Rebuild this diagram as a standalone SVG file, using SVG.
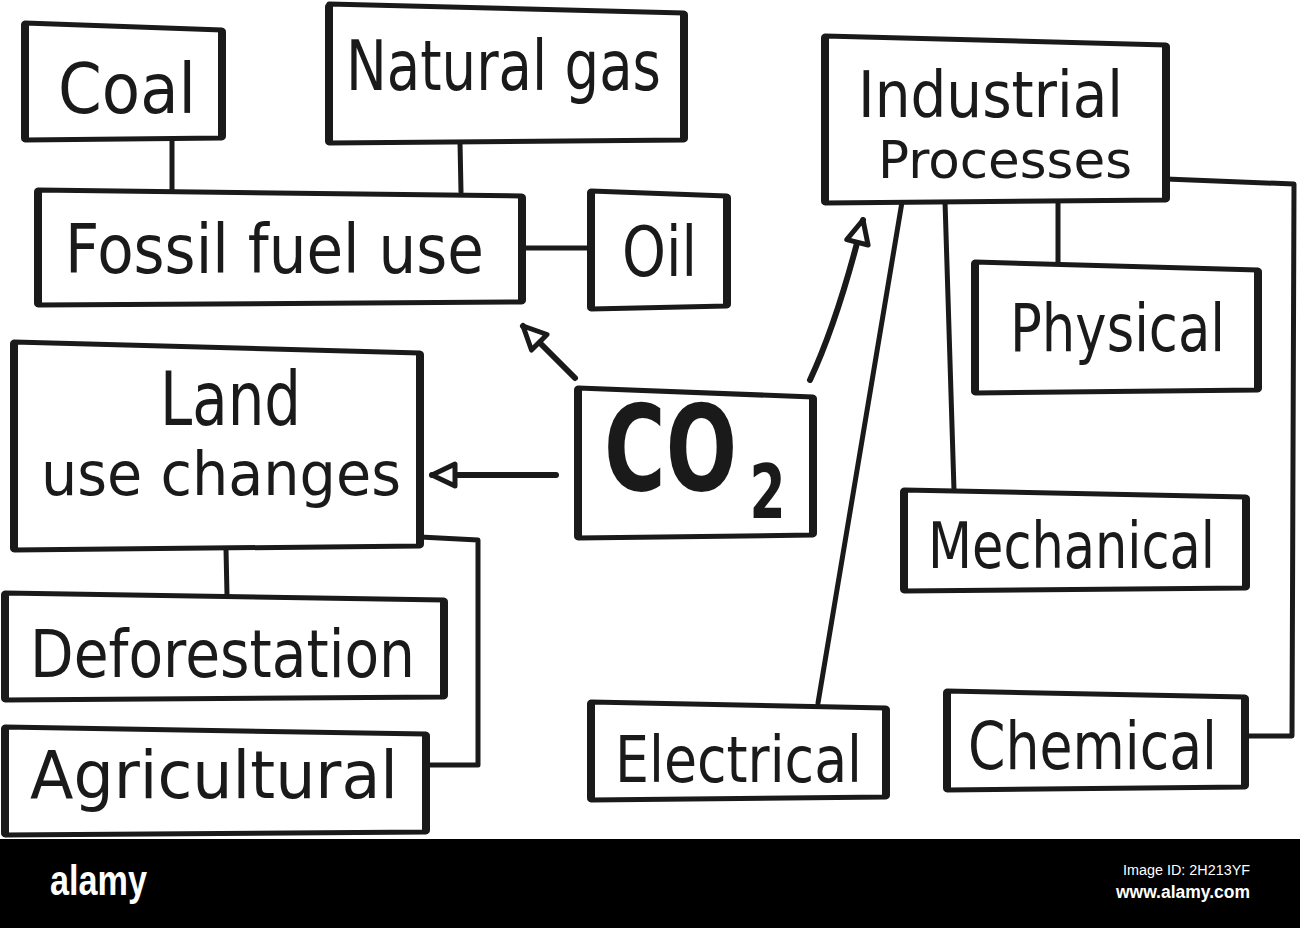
<svg xmlns="http://www.w3.org/2000/svg" width="1300" height="928" viewBox="0 0 1300 928">
<style>
.box{fill:#fff;stroke:#1a1a1a;stroke-width:5;stroke-linejoin:round;stroke-linecap:round}
.side{fill:none;stroke:#1a1a1a;stroke-width:8;stroke-linecap:round}
.con{fill:none;stroke:#1a1a1a;stroke-width:5;stroke-linejoin:round;stroke-linecap:round}
.arr{fill:none;stroke:#1a1a1a;stroke-width:6;stroke-linecap:round}
.t{font-family:"DejaVu Sans","Liberation Sans",sans-serif;fill:#1a1a1a}
.ft{font-family:"Liberation Sans","DejaVu Sans",sans-serif;fill:#fff}
</style>
<defs>
<marker id="ah" viewBox="0 0 30 30" refX="27" refY="15" markerWidth="30" markerHeight="30" markerUnits="userSpaceOnUse" orient="auto">
<path d="M4,4 L27,15 L4,26 Z" fill="#fff" stroke="#1a1a1a" stroke-width="5" stroke-linejoin="round"/>
</marker>
</defs>
<rect width="1300" height="928" fill="#fff"/>

<g id="connectors">
<path class="con" d="M172,138 L172,190"/>
<path class="con" d="M460,142 L461,192"/>
<path class="con" d="M522,248 L591,248"/>
<path class="con" d="M226,549 L227,595"/>
<path class="con" d="M420,537 L478,540 L478,765 L425,765"/>
<path class="con" d="M1058,201 L1058,264"/>
<path class="con" d="M945,201 L954,490"/>
<path class="con" d="M902,202 L818,703"/>
<path class="con" d="M1166,179 L1294,184 L1292,736 L1245,736"/>
<path class="arr" d="M575,378 L523,326" marker-end="url(#ah)"/>
<path class="arr" d="M556,475 L432,475" marker-end="url(#ah)"/>
<path class="arr" d="M810,380 Q838,320 863,220" marker-end="url(#ah)"/>
</g>

<g id="coal">
<path class="box" d="M25,23 L222,30 L222,138 L25,140 Z"/>
<path class="side" d="M25,25 L25,138 M222,32 L222,136"/>
<text class="t" x="58" y="113" font-size="70" textLength="138" lengthAdjust="spacingAndGlyphs">Coal</text>
</g>

<g id="natural-gas">
<path class="box" d="M329,4 L684,13 L684,140 L329,143 Z"/>
<path class="side" d="M329,7 L329,141 M684,15 L684,138"/>
<text class="t" x="346" y="90" font-size="70" textLength="315" lengthAdjust="spacingAndGlyphs">Natural gas</text>
</g>

<g id="fossil-fuel-use">
<path class="box" d="M38,190 L522,196 L522,302 L38,305 Z"/>
<path class="side" d="M38,192 L38,303 M522,198 L522,300"/>
<text class="t" x="65" y="273" font-size="68" textLength="419" lengthAdjust="spacingAndGlyphs">Fossil fuel use</text>
</g>

<g id="oil">
<path class="box" d="M591,191 L727,196 L727,306 L591,309 Z"/>
<path class="side" d="M591,193 L591,307 M727,198 L727,304"/>
<text class="t" x="622" y="276" font-size="70" textLength="75" lengthAdjust="spacingAndGlyphs">Oil</text>
</g>

<g id="industrial-processes">
<path class="box" d="M825,36 L1166,45 L1166,200 L825,203 Z"/>
<path class="side" d="M825,38 L825,201 M1166,47 L1166,198"/>
<text class="t" x="858" y="117" font-size="64" textLength="265" lengthAdjust="spacingAndGlyphs">Industrial</text>
<text class="t" x="878" y="178" font-size="52" textLength="254" lengthAdjust="spacingAndGlyphs">Processes</text>
</g>

<g id="physical">
<path class="box" d="M975,262 L1258,270 L1258,390 L975,393 Z"/>
<path class="side" d="M975,264 L975,391 M1258,272 L1258,388"/>
<text class="t" x="1010" y="351" font-size="66" textLength="215" lengthAdjust="spacingAndGlyphs">Physical</text>
</g>

<g id="land-use-changes">
<path class="box" d="M14,342 L420,353 L420,546 L14,550 Z"/>
<path class="side" d="M14,344 L14,548 M420,355 L420,544"/>
<text class="t" x="160" y="425" font-size="74" textLength="141" lengthAdjust="spacingAndGlyphs">Land</text>
<text class="t" x="41" y="495" font-size="60" textLength="360" lengthAdjust="spacingAndGlyphs">use changes</text>
</g>

<g id="co2">
<path class="box" d="M578,388 L813,397 L813,535 L578,538 Z"/>
<path class="side" d="M578,390 L578,536 M813,399 L813,533"/>
<text class="t" transform="translate(604 0) scale(0.7 1)" x="0" y="490" font-size="120" font-weight="bold">CO<tspan x="208" y="518" font-size="74">2</tspan></text>
</g>

<g id="mechanical">
<path class="box" d="M904,490 L1246,497 L1246,588 L904,591 Z"/>
<path class="side" d="M904,492 L904,589 M1246,499 L1246,586"/>
<text class="t" x="928" y="568" font-size="64" textLength="287" lengthAdjust="spacingAndGlyphs">Mechanical</text>
</g>

<g id="deforestation">
<path class="box" d="M5,593 L444,600 L444,697 L5,700 Z"/>
<path class="side" d="M5,595 L5,698 M444,602 L444,695"/>
<text class="t" x="30" y="677" font-size="66" textLength="385" lengthAdjust="spacingAndGlyphs">Deforestation</text>
</g>

<g id="electrical">
<path class="box" d="M591,702 L886,708 L886,797 L591,800 Z"/>
<path class="side" d="M591,704 L591,798 M886,710 L886,795"/>
<text class="t" x="615" y="782" font-size="64" textLength="247" lengthAdjust="spacingAndGlyphs">Electrical</text>
</g>

<g id="chemical">
<path class="box" d="M947,691 L1245,697 L1245,787 L947,790 Z"/>
<path class="side" d="M947,693 L947,788 M1245,699 L1245,785"/>
<text class="t" x="968" y="769" font-size="66" textLength="249" lengthAdjust="spacingAndGlyphs">Chemical</text>
</g>

<g id="agricultural">
<path class="box" d="M5,727 L426,734 L426,832 L5,835 Z"/>
<path class="side" d="M5,729 L5,833 M426,736 L426,830"/>
<text class="t" x="30" y="798" font-size="66" textLength="368" lengthAdjust="spacingAndGlyphs">Agricultural</text>
</g>

<g id="footer">
<rect x="0" y="839" width="1300" height="89" fill="#000"/>
<text class="ft" x="50" y="895" font-size="42" font-weight="bold" textLength="97" lengthAdjust="spacingAndGlyphs">alamy</text>
<text class="ft" x="1123" y="875" font-size="14" textLength="127" lengthAdjust="spacingAndGlyphs">Image ID: 2H213YF</text>
<text class="ft" x="1116" y="898" font-size="18" font-weight="bold" textLength="134" lengthAdjust="spacingAndGlyphs">www.alamy.com</text>
</g>
</svg>
